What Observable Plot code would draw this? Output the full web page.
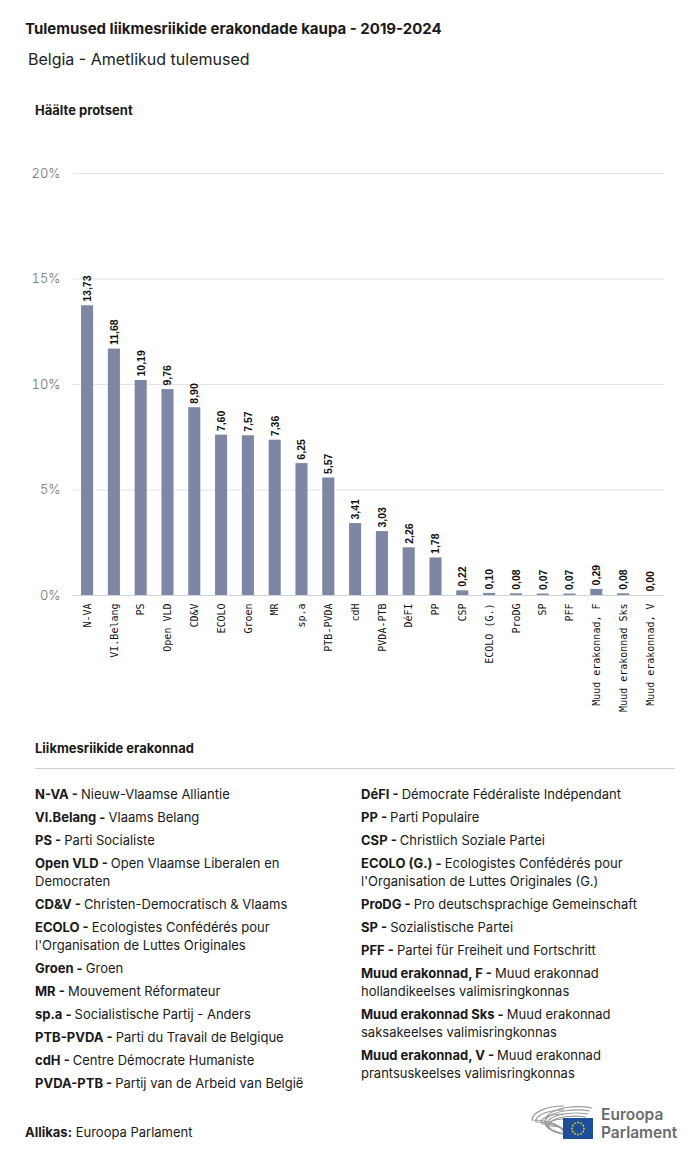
<!DOCTYPE html>
<html>
<head>
<meta charset="utf-8">
<script src="https://cdn.jsdelivr.net/npm/d3@7"></script>
<script src="https://cdn.jsdelivr.net/npm/@observablehq/plot@0.6"></script>
<style>
  html, body { margin: 0; padding: 0; background: #fff; }
  body { width: 700px; height: 1159px; position: relative; font-family: Inter, "Open Sans", sans-serif; color: #1a1a1a; overflow: hidden; }
  .abs { position: absolute; white-space: nowrap; }
  #title { left: 25px; top: 19px; font-size: 15px; font-weight: 700; }
  #subtitle { left: 28px; top: 49px; font-size: 16px; font-weight: 400; color: #222; }
  #ylabel { left: 35px; top: 102px; font-size: 13px; font-weight: 700; }
  #chart { position: absolute; left: 0; top: 140px; }
  #legtitle { left: 35px; top: 740px; font-size: 13px; font-weight: 700; }
  #hr { position: absolute; left: 35px; top: 768px; width: 640px; height: 1px; background: #cfcfcf; }
  .col { position: absolute; top: 785px; width: 310px; font-size: 13px; line-height: 18px; }
  .col .item { margin-bottom: 5px; }
  .col .line { white-space: nowrap; }
  .col b { font-weight: 700; }
  #colL { left: 35px; }
  #colR { left: 361px; }
  #source { left: 25px; top: 1124px; font-size: 13px; }
  #chart svg g[aria-label="x-axis tick label"] text { font-family: "DejaVu Sans Mono", monospace; font-size: 10px; fill: #111; }
  #chart svg g[aria-label="y-axis tick label"] text { font-family: Inter, sans-serif; font-size: 13px; fill: #707070; font-weight: 300; }
</style>
</head>
<body>
<div id="title" class="abs">Tulemused liikmesriikide erakondade kaupa - 2019-2024</div>
<div id="subtitle" class="abs">Belgia - Ametlikud tulemused</div>
<div id="ylabel" class="abs">Häälte protsent</div>
<div id="chart"></div>
<div id="legtitle" class="abs">Liikmesriikide erakonnad</div>
<div id="hr"></div>
<div id="colL" class="col"></div>
<div id="colR" class="col"></div>
<div id="source" class="abs"><b>Allikas:</b> Euroopa Parlament</div>
<svg id="logo" style="position:absolute;left:528px;top:1100px" width="160" height="44" viewBox="0 0 160 44">
  <g fill="none" stroke="#9a9a9a" stroke-width="1.2">
    <path d="M36 34 A32 14 0 0 1 64 8"/>
    <path d="M36 34 A28 11 0 0 1 62 11"/>
    <path d="M36 34 A24 9 0 0 1 60 14"/>
    <path d="M36 34 A20 7 0 0 1 58 17"/>
    <path d="M36 34 A32 14 0 0 0 4 20 A32 14 0 0 1 36 6"/>
    <path d="M36 34 A28 11 0 0 0 8 22 A28 11 0 0 1 36 10"/>
    <path d="M36 34 A22 8 0 0 0 14 24 A22 8 0 0 1 36 14"/>
    <path d="M36 34 A16 6 0 0 0 20 26 A16 6 0 0 1 36 19"/>
  </g>
  <rect x="35" y="18" width="30" height="21" fill="#1d4f9c"/>
  <g fill="#f3d21b" id="stars"></g>
  <text x="73" y="20" font-family="Inter, sans-serif" font-weight="600" font-size="15.5" fill="#6b6b6b">Euroopa</text>
  <text x="73" y="38" font-family="Inter, sans-serif" font-weight="600" font-size="15.5" fill="#6b6b6b">Parlament</text>
</svg>
<script>
const parties = ["N-VA","VI.Belang","PS","Open VLD","CD&V","ECOLO","Groen","MR","sp.a","PTB-PVDA","cdH","PVDA-PTB","DéFI","PP","CSP","ECOLO (G.)","ProDG","SP","PFF","Muud erakonnad, F","Muud erakonnad Sks","Muud erakonnad, V"];
const shares = [13.73,11.68,10.19,9.76,8.90,7.60,7.57,7.36,6.25,5.57,3.41,3.03,2.26,1.78,0.22,0.10,0.08,0.07,0.07,0.29,0.08,0.00];
const yTicks = [0,5,10,15,20];
const yTickLabels = ["0%","5%","10%","15%","20%"];

const legendLeftAbbr = ["N-VA","Vl.Belang","PS","Open VLD","CD&V","ECOLO","Groen","MR","sp.a","PTB-PVDA","cdH","PVDA-PTB"];
const legendLeftName = ["Nieuw-Vlaamse Alliantie","Vlaams Belang","Parti Socialiste","Open Vlaamse Liberalen en Democraten","Christen-Democratisch & Vlaams","Ecologistes Confédérés pour l'Organisation de Luttes Originales","Groen","Mouvement Réformateur","Socialistische Partij - Anders","Parti du Travail de Belgique","Centre Démocrate Humaniste","Partij van de Arbeid van België"];
const legendRightAbbr = ["DéFI","PP","CSP","ECOLO (G.)","ProDG","SP","PFF","Muud erakonnad, F","Muud erakonnad Sks","Muud erakonnad, V"];
const legendRightName = ["Démocrate Fédéraliste Indépendant","Parti Populaire","Christlich Soziale Partei","Ecologistes Confédérés pour l'Organisation de Luttes Originales (G.)","Pro deutschsprachige Gemeinschaft","Sozialistische Partei","Partei für Freiheit und Fortschritt","Muud erakonnad hollandikeelses valimisringkonnas","Muud erakonnad saksakeelses valimisringkonnas","Muud erakonnad prantsuskeelses valimisringkonnas"];

const data = parties.map((p, i) => ({party: p, share: shares[i]}));
const fmt = v => v.toFixed(2).replace(".", ",");

const chart = Plot.plot({
  width: 700,
  height: 600,
  marginTop: 33,
  marginBottom: 145,
  marginLeft: 73,
  marginRight: 36,
  style: {fontFamily: "Inter, sans-serif", background: "transparent"},
  x: {domain: parties, paddingInner: 0.55, paddingOuter: 0.3, round: false, label: null},
  y: {domain: [0, 20], label: null},
  marks: [
    Plot.gridY(yTicks, {stroke: "#e3e3e3", strokeOpacity: 1}),
    Plot.barY(data, {x: "party", y: "share", fill: "#7d87a3"}),
    Plot.ruleY([0], {stroke: "#cdd3df"}),
    Plot.text(data, {x: "party", y: "share", text: d => fmt(d.share), rotate: -90, textAnchor: "start", dy: -4, fontSize: 10.5, fontWeight: 700, fill: "#111", fontFamily: "Liberation Sans, Arial, sans-serif"}),
    Plot.axisY(yTicks, {tickSize: 0, tickPadding: 13, tickFormat: d => yTickLabels[yTicks.indexOf(d)], label: null}),
    Plot.axisX({tickSize: 0, tickPadding: 8, tickRotate: -90, label: null})
  ]
});
document.getElementById("chart").appendChild(chart);

const ctx = document.createElement("canvas").getContext("2d");
function measure(text, weight) {
  ctx.font = `${weight} 13px Inter, sans-serif`;
  return ctx.measureText(text).width;
}
function fillCol(id, abbr, names, maxW) {
  const el = document.getElementById(id);
  abbr.forEach((a, i) => {
    const item = document.createElement("div");
    item.className = "item";
    const boldTxt = a + " - ";
    const words = names[i].split(" ");
    const lines = [];
    let cur = "";
    let offset = measure(boldTxt, 700);
    words.forEach(w => {
      const trial = cur ? cur + " " + w : w;
      if (cur && offset + measure(trial, 400) > maxW) {
        lines.push(cur);
        cur = w;
        offset = 0;
      } else cur = trial;
    });
    lines.push(cur);
    lines.forEach((ln, k) => {
      const line = document.createElement("div");
      line.className = "line";
      if (k === 0) {
        const b = document.createElement("b");
        b.textContent = boldTxt;
        line.appendChild(b);
      }
      const s = document.createElement("span");
      s.textContent = ln;
      line.appendChild(s);
      item.appendChild(line);
    });
    el.appendChild(item);
  });
}
fillCol("colL", legendLeftAbbr, legendLeftName, 300);
fillCol("colR", legendRightAbbr, legendRightName, 300);

const stars = document.getElementById("stars");
for (let k = 0; k < 12; k++) {
  const a = k * Math.PI / 6;
  const c = document.createElementNS("http://www.w3.org/2000/svg", "circle");
  c.setAttribute("cx", 50 + 6 * Math.cos(a));
  c.setAttribute("cy", 28.5 + 6 * Math.sin(a));
  c.setAttribute("r", 0.9);
  stars.appendChild(c);
}
</script>
</body>
</html>
